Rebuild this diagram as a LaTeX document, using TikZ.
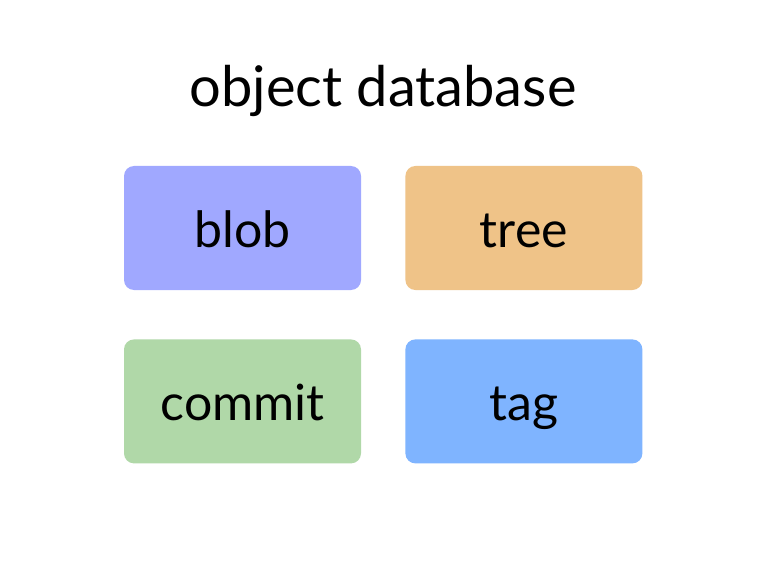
\documentclass[tikz,border=0pt]{standalone}
\usepackage{fontspec}
\setmainfont{Lato}
\usepackage{tikz}
\usetikzlibrary{positioning}
\definecolor{blobfill}{HTML}{A0A8FF}
\definecolor{treefill}{HTML}{EFC388}
\definecolor{commitfill}{HTML}{B0D8A8}
\definecolor{tagfill}{HTML}{7FB4FF}

\begin{document}
\begin{tikzpicture}[
    x=1pt, y=1pt,
    obj/.style={rectangle, rounded corners=10pt, minimum width=237pt, minimum height=124pt,
      inner sep=0pt, text height=38pt, text depth=0pt, font=\fontsize{50}{54}\selectfont},
    heading/.style={anchor=base, font=\fontsize{56}{60}\selectfont}
  ]
    \useasboundingbox[fill=white] (0,0) rectangle (768,574);
    \node[heading] (title) at (383,467) {object database};
    \node[obj, fill=blobfill] (blob) at (242.5,346) {blob};
    \node[obj, fill=treefill, right=44pt of blob] (tree) {tree};
    \node[obj, fill=commitfill, below=49pt of blob] (commit) {commit};
    \node[obj, fill=tagfill, right=44pt of commit] (tag) {tag};
  \end{tikzpicture}
\end{document}
